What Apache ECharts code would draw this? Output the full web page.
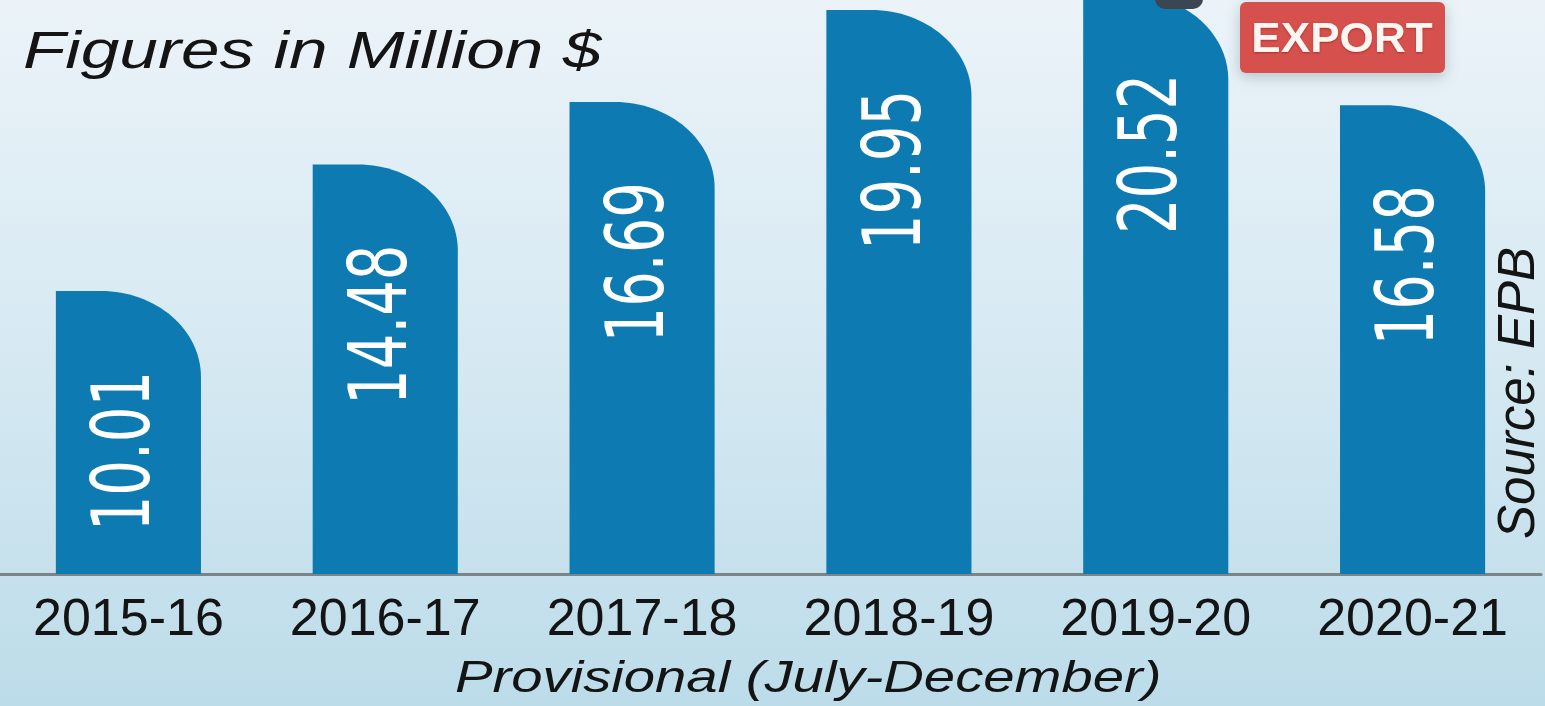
<!DOCTYPE html>
<html>
<head>
<meta charset="utf-8">
<title>Export figures</title>
<script src="https://cdn.jsdelivr.net/npm/echarts@6/dist/echarts.min.js"></script>
<style>
  html, body { margin: 0; padding: 0; }
  #chart { width: 1545px; height: 706px; }
</style>
</head>
<body>
<div id="chart"></div>
<script>
// Fiscal years (July-December, provisional) and export values in million $
const categories = ['2015-16', '2016-17', '2017-18', '2018-19', '2019-20', '2020-21'];
const values = [10.01, 14.48, 16.69, 19.95, 20.52, 16.58];

const BAR_COLOR = '#0d7bb2';
const LABEL_GAP = 80;

const chart = echarts.init(document.getElementById('chart'), null, { renderer: 'canvas' });

// Bar with a square top-left corner and a large quarter-ellipse top-right corner,
// plus the value written vertically inside it.
function renderBar(params, api) {
  const v = api.value(1);
  const idx = api.value(0);
  const base = api.coord([idx, 0]);
  const top = api.coord([idx, v]);
  const bw = api.size([1, 0])[0] * 0.565;
  const x0 = base[0] - bw / 2;
  const x1 = base[0] + bw / 2;
  const y0 = base[1];
  const y1 = top[1];
  const rx = bw * 0.69;
  const ry = Math.min(86, y0 - y1);
  const k = 0.5523;
  const d = 'M' + x0 + ',' + y0 +
    ' L' + x0 + ',' + y1 +
    ' L' + (x1 - rx) + ',' + y1 +
    ' C' + (x1 - rx + rx * k) + ',' + y1 + ' ' + x1 + ',' + (y1 + ry - ry * k) + ' ' + x1 + ',' + (y1 + ry) +
    ' L' + x1 + ',' + y0 + ' Z';
  return {
    type: 'group',
    children: [
      {
        type: 'path',
        shape: { pathData: d, x: x0, y: y1, width: bw, height: y0 - y1 },
        style: { fill: BAR_COLOR }
      },
      {
        type: 'text',
        x: base[0],
        y: y1 + LABEL_GAP,
        rotation: Math.PI / 2,
        scaleX: 1,
        scaleY: 1.42,
        style: {
          text: v.toFixed(2),
          fill: '#ffffff',
          font: '56px "DejaVu Sans"',
          align: 'right',
          verticalAlign: 'middle'
        }
      }
    ]
  };
}

const option = {
  backgroundColor: {
    type: 'linear', x: 0, y: 0, x2: 0, y2: 1,
    colorStops: [
      { offset: 0, color: '#ebf3f8' },
      { offset: 0.5, color: '#d6e9f2' },
      { offset: 1, color: '#bcdce9' }
    ]
  },
  animation: false,
  grid: { left: 0, right: 4, top: 0, bottom: 132, containLabel: false, outerBoundsMode: 'none' },
  xAxis: {
    type: 'category',
    data: categories,
    axisLine: { show: true, lineStyle: { color: '#7d8488', width: 3 } },
    axisTick: { show: false },
    splitLine: { show: false },
    axisLabel: {
      margin: 21,
      fontSize: 52,
      fontFamily: '"Liberation Sans", Arial, sans-serif',
      color: '#141414'
    }
  },
  yAxis: {
    type: 'value',
    min: 0,
    max: 20.3,
    show: false
  },
  series: [{
    type: 'custom',
    renderItem: renderBar,
    encode: { x: 0, y: 1 },
    data: values.map((v, i) => [i, v]),
    clip: false,
    z: 1
  }],
  graphic: [
    {
      type: 'text',
      x: 23,
      y: 54,
      scaleX: 1.36,
      style: {
        text: 'Figures in Million $',
        font: 'italic 51px "Liberation Sans", Arial, sans-serif',
        fill: '#141414',
        align: 'left',
        verticalAlign: 'middle'
      }
    },
    {
      type: 'text',
      x: 455,
      y: 679,
      scaleX: 1.25,
      style: {
        text: 'Provisional (July-December)',
        font: 'italic 45px "Liberation Sans", Arial, sans-serif',
        fill: '#141414',
        align: 'left',
        verticalAlign: 'middle'
      }
    },
    {
      type: 'text',
      x: 1520,
      y: 393,
      rotation: Math.PI / 2,
      style: {
        text: 'Source: EPB',
        font: 'italic 51px "Liberation Sans", Arial, sans-serif',
        fill: '#141414',
        align: 'center',
        verticalAlign: 'middle'
      }
    },
    {
      type: 'rect',
      shape: { x: 1155, y: -25, width: 48, height: 34, r: 10 },
      style: { fill: '#3c4652' },
      z: 10
    },
    {
      type: 'group',
      z: 10,
      children: [
        {
          type: 'rect',
          shape: { x: 1240, y: 2, width: 205, height: 71, r: 6 },
          style: {
            fill: '#d6504d',
            shadowBlur: 14,
            shadowOffsetY: 4,
            shadowColor: 'rgba(90,110,120,0.35)'
          }
        },
        {
          type: 'text',
          x: 1342,
          y: 40,
          scaleX: 1.05,
          style: {
            text: 'EXPORT',
            font: 'bold 42px "Liberation Sans", Arial, sans-serif',
            fill: '#fff6f2',
            align: 'center',
            verticalAlign: 'middle',
            textShadowColor: 'rgba(120,20,20,0.5)',
            textShadowBlur: 2,
            textShadowOffsetY: 1
          }
        }
      ]
    }
  ]
};

chart.setOption(option);
</script>
</body>
</html>
